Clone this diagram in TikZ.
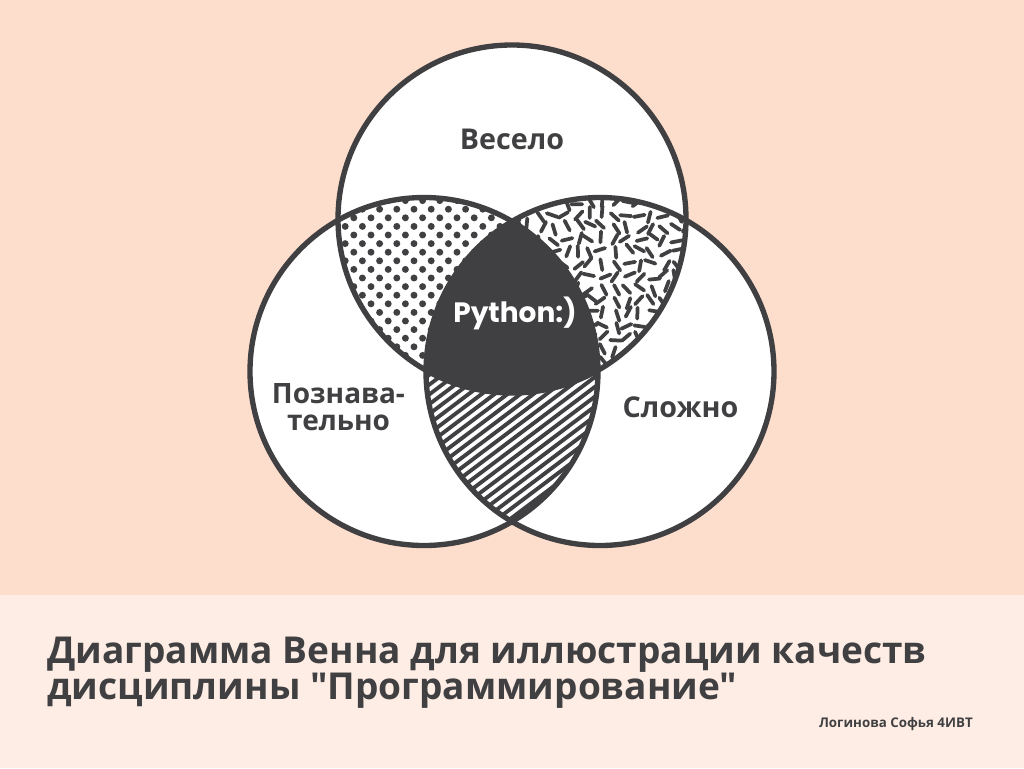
\documentclass[tikz,border=0pt]{standalone}
\usepackage{fontspec}
\setmainfont{Open Sans}[Ligatures=TeXOff]
\newfontfamily\popfont{Poppins}
\definecolor{dark}{RGB}{64,64,66}
\definecolor{peach}{RGB}{253,221,204}
\definecolor{band}{RGB}{254,237,228}
\tikzset{
  ring/.style={draw=dark, line width=4pt},
  lbl/.style={text=dark, font=\bfseries\fontsize{21.5}{24}\selectfont, inner sep=0pt, anchor=base},
  lblsmall/.style={text=dark, font=\bfseries\fontsize{21}{24}\selectfont, inner sep=0pt, anchor=base},
  dashmark/.style={draw=dark, line width=2.8pt, line cap=round},
  hatchline/.style={draw=dark, line width=2.9pt},
  titletext/.style={text=dark, font=\bfseries\fontsize{27.8}{30}\selectfont, inner sep=0pt, anchor=base west},
}
\begin{document}
\begin{tikzpicture}[x=0.75pt,y=-0.75pt]
\useasboundingbox (0,0) rectangle (1024,768);
\fill[peach] (0,0) rectangle (1024,595);
\fill[band] (0,595) rectangle (1024,768);
\def\R{130.5pt}
\coordinate (cT) at (512,219);
\coordinate (cL) at (424,371.5);
\coordinate (cR) at (600,371.5);
% white discs
\fill[white] (cT) circle[radius=\R];
\fill[white] (cL) circle[radius=\R];
\fill[white] (cR) circle[radius=\R];
% top & left : dots
\begin{scope}
  \clip (cT) circle[radius=\R];
  \clip (cL) circle[radius=\R];
  \foreach \i in {0,...,27} {
    \foreach \j in {0,...,16} {
      \fill[dark] ({328+\j*17.2+mod(\i,2)*8.6},{192+\i*8.6}) circle[radius=2.6pt];
    }
  }
\end{scope}
% top & right : random dashes
\pgfmathsetseed{4242}
\begin{scope}
  \clip (cT) circle[radius=\R];
  \clip (cR) circle[radius=\R];
  \foreach \i in {0,...,19} {
    \foreach \j in {0,...,18} {
      \pgfmathsetmacro\px{492+\j*12.3+rand*3}
      \pgfmathsetmacro\py{190+\i*12.3+rand*3}
      \pgfmathsetmacro\ang{rnd*180}
      \draw[dashmark] (\px,\py) ++(\ang:-5.5) -- ++(\ang:11);
    }
  }
\end{scope}
% left & right : hatching
\begin{scope}
  \clip (cL) circle[radius=\R];
  \clip (cR) circle[radius=\R];
  \begin{scope}[shift={(512,420)}, rotate=37]
    \foreach \k in {-30,...,30} {
      \draw[hatchline] (-320,\k*7.8) -- (320,\k*7.8);
    }
  \end{scope}
\end{scope}
% triple intersection
\begin{scope}
  \clip (cT) circle[radius=\R];
  \clip (cL) circle[radius=\R];
  \fill[dark] (cR) circle[radius=\R];
\end{scope}
% outlines
\draw[ring] (cT) circle[radius=\R];
\draw[ring] (cL) circle[radius=\R];
\draw[ring] (cR) circle[radius=\R];
% labels
\node[lbl] (fun) at (512,149) {Весело};
\node[lbl] (hard) at (680.5,417) {Сложно};
\node[lblsmall] (cog1) at (338.5,403) {Познава-};
\node[lblsmall] (cog2) at (338.5,430) {тельно};
\node[text=white, font=\popfont\bfseries\fontsize{21}{24}\selectfont, inner sep=0pt, anchor=base] (py) at (515,322) {Python:)};
% title
\node[titletext] (title1) at (47,663) {Диаграмма Венна для иллюстрации качеств};
\node[titletext] (title2) at (47,699) {дисциплины "Программирование"};
\node[text=dark, font=\bfseries\fontsize{10}{12}\selectfont, inner sep=0pt, anchor=base east] (author) at (973,727) {Логинова Софья 4ИВТ};
\end{tikzpicture}
\end{document}
